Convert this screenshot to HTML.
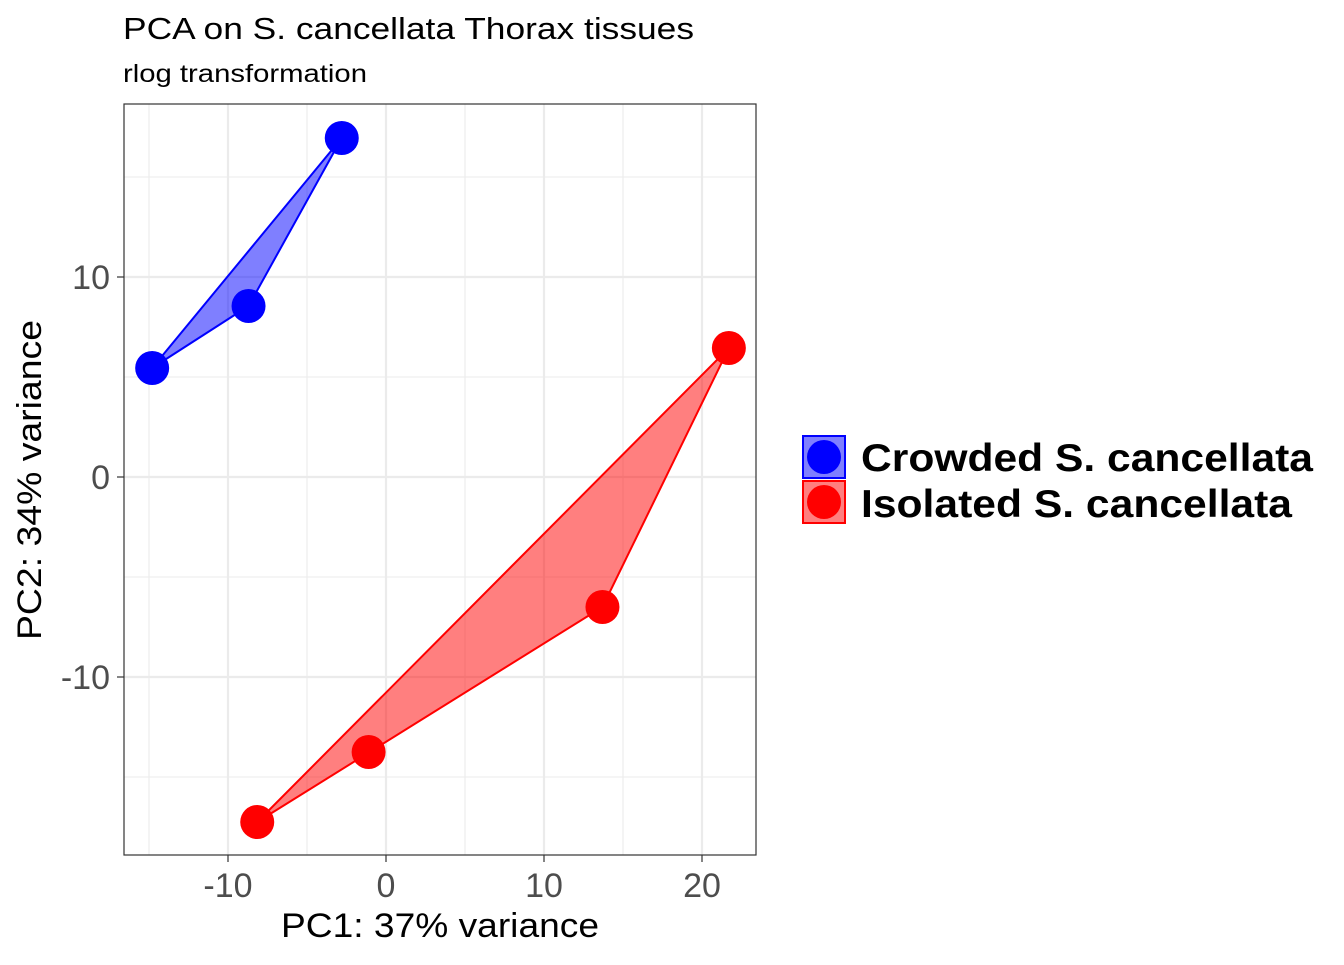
<!DOCTYPE html>
<html><head><meta charset="utf-8"><style>
body{margin:0;background:#fff;font-family:"Liberation Sans",Arial,sans-serif}
</style></head><body>
<svg id="chart" width="1344" height="960" xmlns="http://www.w3.org/2000/svg" font-family="Liberation Sans, Arial, sans-serif">
<text x="123" y="39" font-size="31" textLength="571" lengthAdjust="spacingAndGlyphs" fill="#000">PCA on S. cancellata Thorax tissues</text>
<text x="123" y="82" font-size="25" textLength="244" lengthAdjust="spacingAndGlyphs" fill="#000">rlog transformation</text>
<g id="grid"></g>
<g id="hulls"></g>
<g id="points"></g>
<rect x="124" y="104" width="632" height="751" fill="none" stroke="#333" stroke-width="1.2"/>
<g id="xticks"></g>
<g id="yticks"></g>
<text x="440" y="937" font-size="34" textLength="318" lengthAdjust="spacingAndGlyphs" text-anchor="middle">PC1: 37% variance</text>
<text transform="translate(41,480) rotate(-90)" font-size="34" textLength="320" lengthAdjust="spacingAndGlyphs" text-anchor="middle">PC2: 34% variance</text>
<g>
<g>
<rect x="803" y="436" width="42" height="42" fill="#0000ff" fill-opacity="0.5" stroke="#0000ff" stroke-width="2"/>
<circle cx="824" cy="457" r="17" fill="#0000ff"/>
<text x="861" y="471" font-size="39" font-weight="bold" textLength="452" lengthAdjust="spacingAndGlyphs">Crowded S. cancellata</text></g>
<g>
<rect x="803" y="481" width="42" height="42" fill="#ff0000" fill-opacity="0.5" stroke="#ff0000" stroke-width="2"/>
<circle cx="824" cy="502" r="17" fill="#ff0000"/>
<text x="861" y="517" font-size="39" font-weight="bold" textLength="431" lengthAdjust="spacingAndGlyphs">Isolated S. cancellata</text></g>
</g>
</svg>
<script>
const crowdedX=[-2.8,-8.7,-14.8];
const crowdedY=[16.95,8.55,5.45];
const isolatedX=[21.7,13.7,-1.1,-8.15];
const isolatedY=[6.45,-6.5,-13.75,-17.25];
const xTicks=[-10,0,10,20];
const yTicks=[-10,0,10];
const NS="http://www.w3.org/2000/svg";
const sx=v=>386+v*15.8, sy=v=>477-v*20;
function mk(tag,attrs,parent){const e=document.createElementNS(NS,tag);for(const k in attrs)e.setAttribute(k,attrs[k]);parent.appendChild(e);return e;}
const grid=document.getElementById('grid');
mk('rect',{x:124,y:104,width:632,height:751,fill:'#fff'},grid);
for(let v=-15;v<=25;v+=5){const x=sx(v);if(x<124||x>756)continue;const major=v%10===0;
 const l=mk('line',{x1:x,x2:x,y1:104,y2:855,stroke:'#ebebeb','stroke-width':major?2.2:1.1},grid);
 }
for(let v=-20;v<=20;v+=5){const y=sy(v);if(y<104||y>855)continue;const major=v%10===0;
 const l=mk('line',{x1:124,x2:756,y1:y,y2:y,stroke:'#ebebeb','stroke-width':major?2.2:1.1},grid);
 }
const xt=document.getElementById('xticks');
xTicks.forEach(v=>{const x=sx(v);mk('line',{x1:x,x2:x,y1:855,y2:862,stroke:'#333','stroke-width':1.2},xt);
 const t=mk('text',{x:x,y:897,'font-size':34,fill:'#4d4d4d','text-anchor':'middle'},xt);t.textContent=v;
 });
const yt=document.getElementById('yticks');
yTicks.forEach(v=>{const y=sy(v);mk('line',{x1:117,x2:124,y1:y,y2:y,stroke:'#333','stroke-width':1.2},yt);
 const t=mk('text',{x:110,y:y+12,'font-size':34,fill:'#4d4d4d','text-anchor':'end'},yt);t.textContent=v;
 });
function hull(xs,ys){const p=xs.map((x,i)=>[sx(x),sy(ys[i])]).sort((a,b)=>a[0]-b[0]||a[1]-b[1]);
 const cr=(o,a,b)=>(a[0]-o[0])*(b[1]-o[1])-(a[1]-o[1])*(b[0]-o[0]);const lo=[],up=[];
 for(const q of p){while(lo.length>=2&&cr(lo[lo.length-2],lo[lo.length-1],q)<=0)lo.pop();lo.push(q);}
 for(const q of p.slice().reverse()){while(up.length>=2&&cr(up[up.length-2],up[up.length-1],q)<=0)up.pop();up.push(q);}
 return lo.slice(0,-1).concat(up.slice(0,-1)).map(q=>q.join(',')).join(' ');}
const hg=document.getElementById('hulls');
const h1=mk('polygon',{points:hull(crowdedX,crowdedY),fill:'#0000ff','fill-opacity':0.5,stroke:'#0000ff','stroke-width':2},hg);

const h2=mk('polygon',{points:hull(isolatedX,isolatedY),fill:'#ff0000','fill-opacity':0.5,stroke:'#ff0000','stroke-width':2},hg);

const pg=document.getElementById('points');
crowdedX.forEach((x,i)=>{const c=mk('circle',{cx:sx(x),cy:sy(crowdedY[i]),r:17,fill:'#0000ff'},pg);
 });
isolatedX.forEach((x,i)=>{const c=mk('circle',{cx:sx(x),cy:sy(isolatedY[i]),r:17,fill:'#ff0000'},pg);
 });
</script>
</body></html>
